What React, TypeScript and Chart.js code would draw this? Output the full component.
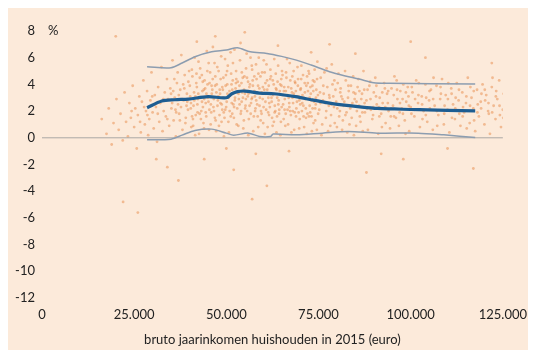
import React, { useEffect, useRef } from "react";
import { Chart, registerables } from "chart.js";

Chart.register(...registerables);

// x values in thousands of euro, y values in %
const xTicks = [0, 25, 50, 75, 100, 125];
const yTicks = [-12, -10, -8, -6, -4, -2, 0, 2, 4, 6, 8];

const medianIncome = [28.5, 32.5, 36, 39.7, 45, 50, 51.5, 53, 55, 59, 63, 68.8, 73, 78, 82, 86.8, 91, 95.6, 100, 104.7, 110, 117.5];
const medianPct = [2.25, 2.75, 2.85, 2.9, 3.08, 3.0, 3.3, 3.46, 3.5, 3.35, 3.3, 3.08, 2.85, 2.6, 2.45, 2.3, 2.2, 2.16, 2.12, 2.09, 2.05, 2.02];

const upperIncome = [28.5, 35, 38, 41.5, 46, 50, 53, 56.5, 61, 65, 69, 73, 78, 82, 86, 90, 94, 117.5];
const upperPct = [5.32, 5.25, 5.6, 6.07, 6.44, 6.57, 6.74, 6.44, 6.32, 6.1, 5.82, 5.45, 4.95, 4.65, 4.4, 4.12, 4.08, 4.03];

const lowerIncome = [28.5, 35, 38, 41.5, 46, 50, 52, 56, 59, 62, 62.7, 69, 76, 83, 91, 102, 109, 117.5];
const lowerPct = [-0.15, -0.1, 0.2, 0.55, 0.65, 0.35, 0.2, 0.35, 0.1, 0.1, 0.28, 0.22, 0.35, 0.47, 0.35, 0.35, 0.22, 0.02];

const zeroIncome = [0, 125.5];
const zeroPct = [0, 0];

const cloudLow: [number, number][] = [
  [16.2, 1.4], [17.5, 0.3], [18.1, 2.2], [18.9, -0.5], [19.4, 1.1], [20.2, 2.9], [20.8, 0.6], [21.3, 1.8], [21.9, -0.2], [22.4, 3.4],
  [22.8, 1.2], [23.3, 0.1], [23.7, 2.6], [24.1, 1.5], [24.6, 3.9], [25.0, 0.8], [25.3, 2.2], [25.7, -0.8], [26.0, 1.7], [26.4, 3.1],
  [26.8, 0.4], [27.1, 2.7], [27.5, 4.3], [27.9, 1.0], [28.2, 2.0], [28.5, 3.5], [28.8, 0.2], [29.1, 1.4], [29.4, 2.8], [29.7, 4.9],
  [30.0, 1.9], [30.3, 0.7], [30.6, 3.2], [30.9, 2.3], [31.2, -0.3], [31.5, 3.8], [31.8, 1.2], [32.1, 2.6], [32.4, 5.3], [32.7, 0.5],
  [33.0, 2.0], [33.3, 3.4], [33.6, 1.6], [33.9, 4.4], [34.2, 2.9], [34.5, 0.9], [34.8, 3.7], [35.1, 2.2], [35.4, 5.8], [35.7, 1.3],
  [36.0, 3.0], [36.3, 0.1], [36.6, 4.1], [36.9, 2.5], [37.2, 1.8], [37.5, 3.6], [37.8, 6.2], [38.1, 0.6], [38.4, 2.8], [38.7, 4.7],
  [39.0, 1.5], [39.3, 3.3], [39.6, 2.1], [39.9, 5.0], [22, -4.8], [26, -5.6], [37, -3.2], [20, 7.6], [31, -1.6], [34, -2.2],
  [27.7, 2.3], [29.9, 3.1], [31.4, 1.8], [32.9, 2.9], [34.0, 1.4], [35.0, 3.3], [28.6, 1.7], [30.7, 2.5], [24.3, 2.0], [26.6, 1.2],
];

const cloudMid: [number, number][] = [
  [40.2, 3.1], [40.5, 0.8], [40.8, 4.6], [41.1, 2.4], [41.4, 6.0], [41.7, 1.7], [42.0, 3.8], [42.3, 2.9], [42.6, 0.3], [42.9, 5.2],
  [43.2, 2.0], [43.5, 3.5], [43.8, 1.1], [44.1, 4.3], [44.4, 2.6], [44.7, 6.5], [45.0, 3.0], [45.3, 0.6], [45.6, 4.9], [45.9, 1.9],
  [46.2, 3.6], [46.5, 2.3], [46.8, 5.6], [47.1, 1.3], [47.4, 4.0], [47.7, 2.8], [48.0, 0.9], [48.3, 3.3], [48.6, 6.1], [48.9, 2.1],
  [49.2, 4.5], [49.5, 1.5], [49.8, 3.9], [50.1, 2.7], [50.4, 5.4], [50.7, 0.4], [51.0, 3.2], [51.3, 4.8], [51.6, 1.8], [51.9, 2.5],
  [52.2, 6.6], [52.5, 3.7], [52.8, 1.0], [53.1, 4.2], [53.4, 2.9], [53.7, 5.8], [54.0, 2.0], [54.3, 3.4], [54.6, 0.7], [54.9, 4.6],
  [55.2, 2.4], [55.5, 6.3], [55.8, 3.1], [56.1, 1.4], [56.4, 4.0], [56.7, 2.6], [57.0, 5.1], [57.3, 0.5], [57.6, 3.5], [57.9, 2.2],
  [58.2, 4.4], [58.5, 1.6], [58.8, 6.0], [59.1, 3.0], [59.4, 2.0], [59.7, 4.9], [60.0, 1.1], [60.3, 3.6], [60.6, 2.7], [60.9, 5.5],
  [61.2, 0.8], [61.5, 3.9], [61.8, 2.3], [62.1, 4.6], [62.4, 1.5], [62.7, 3.2], [63.0, 5.9], [63.3, 2.0], [63.6, 0.4], [63.9, 4.2],
  [64.2, 2.8], [64.5, 3.5], [64.8, 1.2], [65.1, 5.0], [65.4, 2.5], [65.7, 3.8], [66.0, 0.9], [66.3, 4.5], [66.6, 2.1], [66.9, 3.0],
  [67.2, 5.6], [67.5, 1.7], [67.8, 3.4], [68.1, 2.6], [68.4, 0.6], [68.7, 4.1], [69.0, 2.2], [69.3, 5.3], [69.6, 3.1], [69.9, 1.4],
  [70.2, 3.7], [70.5, 2.0], [70.8, 4.7], [71.1, 0.8], [71.4, 2.9], [71.7, 3.9], [72.0, 1.8], [72.3, 5.0], [72.6, 2.4], [72.9, 3.3],
  [73.2, 0.5], [73.5, 4.3], [73.8, 2.7], [74.1, 1.3], [74.4, 3.6], [74.7, 5.7],
  [40.35, 2.2], [40.65, 5.1], [40.95, 1.4], [41.25, 3.4], [41.55, 0.2], [41.85, 4.1], [42.15, 2.5], [42.45, 5.7], [42.75, 1.8], [43.05, 3.0],
  [43.35, 4.7], [43.65, 2.3], [43.95, 0.7], [44.25, 3.7], [44.55, 1.6], [44.85, 5.0], [45.15, 2.7], [45.45, 4.1], [45.75, 1.0], [46.05, 3.3],
  [46.35, 6.8], [46.65, 2.0], [46.95, 3.9], [47.25, 0.5], [47.55, 5.3], [47.85, 3.1], [48.15, 1.7], [48.45, 4.4], [48.75, 2.5], [49.05, 3.6],
  [49.35, 0.1], [49.65, 5.9], [49.95, 2.3], [50.25, 4.0], [50.55, 1.2], [50.85, 3.5], [51.15, 6.4], [51.45, 2.6], [51.75, 4.3], [52.05, 1.5],
  [52.35, 3.0], [52.65, 5.0], [52.95, 2.2], [53.25, 0.9], [53.55, 3.9], [53.85, 7.1], [54.15, 2.7], [54.45, 4.5], [54.75, 1.3], [55.05, 3.3],
  [55.35, 5.2], [55.65, 2.0], [55.95, 0.2], [56.25, 3.8], [56.55, 6.0], [56.85, 2.9], [57.15, 4.3], [57.45, 1.6], [57.75, 3.1], [58.05, 5.5],
  [58.35, 2.5], [58.65, 0.8], [58.95, 3.7], [59.25, 4.6], [59.55, 1.8], [59.85, 2.9], [60.15, 5.8], [60.45, 0.3], [60.75, 3.3], [61.05, 4.3],
  [61.35, 1.9], [61.65, 2.6], [61.95, 5.1], [62.25, 3.0], [62.55, 0.9], [62.85, 4.0], [63.15, 2.4], [63.45, 3.7], [63.75, 1.6], [64.05, 5.4],
  [64.35, 2.1], [64.65, 0.2], [64.95, 3.9], [65.25, 4.7], [65.55, 1.4], [65.85, 2.9], [66.15, 3.5], [66.45, 5.9], [66.75, 1.0], [67.05, 2.6],
  [67.35, 4.3], [67.65, 0.4], [67.95, 3.0], [68.25, 5.0], [68.55, 1.9], [68.85, 3.5], [69.15, 2.7], [69.45, 4.4], [69.75, 0.7], [70.05, 2.5],
  [70.35, 5.4], [70.65, 3.2], [70.95, 1.6], [71.25, 4.1], [71.55, 2.2], [71.85, 0.3], [72.15, 3.5], [72.45, 4.8], [72.75, 1.9], [73.05, 2.8],
  [73.35, 3.9], [73.65, 1.1], [73.95, 5.1], [74.25, 2.5], [74.55, 0.6], [74.85, 3.2],
  [44, -1.6], [47, 7.6], [52, -2.4], [55, 7.9], [58, -1.2], [61, -3.6], [64, 6.9], [50, -0.8], [67, -1.0], [73, 6.4], [42, 7.2], [57, -4.6],
];

const cloudDense: [number, number][] = [
  [35.3, 2.6], [35.9, 4.4], [36.4, 1.9], [37.1, 3.2], [37.7, 2.3], [38.3, 4.0], [38.9, 1.1], [39.4, 2.7], [40.1, 3.9], [40.7, 1.6],
  [41.3, 2.8], [41.9, 4.8], [42.4, 3.3], [43.1, 1.4], [43.6, 4.2], [44.0, 2.9], [44.6, 3.3], [45.2, 5.6], [45.8, 2.5], [46.3, 4.4],
  [46.9, 1.5], [47.3, 3.4], [47.9, 5.0], [48.4, 2.6], [48.9, 3.8], [49.3, 1.9], [49.9, 4.7], [50.3, 3.3], [50.9, 2.0], [51.4, 4.0],
  [51.8, 5.6], [52.3, 2.8], [52.7, 4.4], [53.3, 3.3], [53.9, 1.8], [54.2, 4.9], [54.8, 3.6], [55.3, 2.9], [55.9, 4.2], [56.3, 2.4],
  [56.9, 5.4], [57.2, 3.9], [57.8, 2.0], [58.3, 3.4], [58.7, 4.8], [59.3, 1.3], [59.9, 3.8], [60.4, 4.9], [60.8, 2.1], [61.4, 3.0],
  [61.9, 4.4], [62.3, 2.7], [62.9, 1.2], [63.4, 4.8], [63.8, 3.0], [64.3, 1.8], [64.9, 4.4], [65.3, 3.2], [65.8, 2.1], [66.2, 4.9],
  [66.8, 3.8], [67.3, 2.0], [67.9, 4.6], [68.3, 3.3], [68.9, 1.6], [69.4, 3.9], [69.8, 2.8], [70.3, 4.4], [70.9, 2.4], [71.3, 3.4],
  [71.9, 4.6], [72.4, 1.6], [72.8, 3.8], [73.4, 2.2], [73.9, 4.2], [74.3, 3.0], [74.9, 1.8],
  [35.6, 3.5], [36.2, 2.1], [36.8, 4.9], [37.4, 1.3], [38.0, 2.9], [38.6, 3.7], [39.2, 2.4], [39.7, 4.2], [40.4, 2.6], [41.0, 0.9],
  [41.6, 3.1], [42.2, 1.9], [42.8, 4.5], [43.4, 2.7], [43.9, 3.6], [44.4, 1.9], [44.9, 4.0], [45.4, 2.1], [46.0, 3.9], [46.6, 2.9],
  [47.0, 4.6], [47.6, 2.4], [48.2, 3.6], [48.7, 1.2], [49.1, 3.0], [49.7, 2.1], [50.2, 5.0], [50.6, 3.0], [51.2, 1.6], [51.6, 3.6],
  [52.1, 2.3], [52.6, 4.1], [53.0, 3.4], [53.6, 2.5], [54.1, 4.1], [54.5, 3.0], [55.1, 2.2], [55.6, 4.5], [56.0, 3.3], [56.6, 1.8],
  [57.0, 3.0], [57.6, 4.6], [58.1, 2.8], [58.6, 3.9], [59.0, 2.4], [59.6, 3.4], [60.1, 2.3], [60.6, 4.1], [61.1, 3.6], [61.6, 1.7],
  [62.0, 3.3], [62.6, 4.3], [63.1, 1.9], [63.6, 3.6], [64.1, 2.5], [64.6, 4.0], [65.0, 2.3], [65.6, 3.5], [66.1, 1.8], [66.6, 3.2],
  [67.1, 2.3], [67.6, 3.7], [68.0, 2.0], [68.6, 4.2], [69.1, 3.1], [69.6, 1.9], [70.1, 3.6], [70.6, 2.6], [71.0, 3.0], [71.6, 1.5],
  [72.1, 4.1], [72.6, 3.0], [73.1, 1.6], [73.6, 3.5], [74.1, 2.2], [74.6, 4.4],
  [75.5, 2.6], [76.3, 3.9], [77.1, 2.0], [77.9, 3.2], [78.5, 2.5], [79.3, 4.3], [80.1, 2.2], [80.9, 3.4], [81.5, 2.9], [82.3, 1.7],
  [83.1, 3.9], [83.9, 2.4], [84.5, 3.4], [85.3, 2.7], [86.1, 3.5], [86.9, 1.9], [87.5, 2.6], [88.3, 3.6], [89.1, 2.9], [89.9, 2.3],
  [90.7, 3.9], [91.5, 1.6], [92.3, 3.4], [93.1, 2.3], [93.9, 3.5], [94.7, 2.2], [95.5, 1.6], [96.3, 3.6], [97.1, 2.6], [97.9, 1.8],
  [98.7, 3.4], [99.5, 2.4], [100.3, 3.8], [101.1, 2.1], [102.1, 3.2], [103.1, 2.5], [104.1, 1.7], [105.1, 3.5], [106.1, 2.9], [107.1, 2.0],
  [108.1, 3.8], [109.1, 1.8], [110.1, 2.9], [111.1, 3.3], [112.1, 2.2], [113.1, 3.6], [114.1, 1.6], [115.1, 3.1], [116.1, 2.4], [117.1, 3.5],
  [118.1, 1.9], [119.1, 2.2], [120.1, 3.6], [121.1, 2.6], [122.1, 1.9], [123.1, 3.1], [124.1, 2.4], [125.1, 1.5],
];

const cloudHigh: [number, number][] = [
  [75.2, 2.1], [75.6, 4.5], [76.0, 1.0], [76.4, 3.3], [76.8, 2.6], [77.2, 5.2], [77.6, 0.5], [78.0, 3.0], [78.4, 1.7], [78.8, 4.0],
  [79.2, 2.3], [79.6, 3.6], [80.0, 0.8], [80.4, 4.8], [80.8, 2.0], [81.2, 3.1], [81.6, 1.3], [82.0, 2.7], [82.4, 4.3], [82.8, 0.4],
  [83.2, 3.5], [83.6, 2.2], [84.0, 1.5], [84.4, 4.6], [84.8, 2.9], [85.2, 0.9], [85.6, 3.8], [86.0, 2.4], [86.4, 1.2], [86.8, 3.3],
  [87.2, 5.0], [87.6, 1.9], [88.0, 2.8], [88.4, 0.6], [88.8, 3.9], [89.2, 2.1], [89.6, 1.4], [90.0, 3.4], [90.4, 4.5], [90.8, 2.5],
  [91.2, 0.3], [91.6, 3.0], [92.0, 1.8], [92.4, 2.6], [92.8, 4.1], [93.2, 1.1], [93.6, 3.3], [94.0, 2.0], [94.4, 0.7], [94.8, 3.7],
  [95.2, 2.4], [95.6, 4.6], [96.0, 1.5], [96.4, 2.9], [96.8, 0.9], [97.2, 3.5], [97.6, 2.2], [98.0, 4.0], [98.4, 1.3], [98.8, 2.7],
  [99.2, 3.8], [99.6, 0.5], [100.0, 2.3], [100.5, 3.4], [101.0, 1.6], [101.5, 4.3], [102.0, 2.6], [102.5, 0.8], [103.0, 3.1], [103.5, 2.0],
  [104.0, 4.0], [104.5, 1.2], [105.0, 2.8], [105.5, 3.6], [106.0, 0.6], [106.5, 2.4], [107.0, 3.9], [107.5, 1.7], [108.0, 2.9], [108.5, 4.4],
  [109.0, 1.0], [109.5, 3.2], [110.0, 2.1], [110.5, 0.4], [111.0, 3.7], [111.5, 2.5], [112.0, 1.4], [112.5, 4.1], [113.0, 2.8], [113.5, 0.9],
  [114.0, 3.4], [114.5, 1.9], [115.0, 2.6], [115.5, 4.5], [116.0, 1.1], [116.5, 3.0], [117.0, 2.2], [117.5, 0.5], [118.0, 3.6], [118.5, 1.6],
  [119.0, 2.7], [119.5, 4.0], [120.0, 1.0], [120.5, 3.2], [121.0, 2.0], [121.5, 0.3], [122.0, 3.8], [122.5, 2.4], [123.0, 1.4], [123.5, 2.9],
  [124.0, 4.3], [124.5, 0.8], [125.0, 2.1],
  [75.4, 3.4], [75.8, 0.2], [76.2, 2.8], [76.6, 4.9], [77.0, 1.5], [77.4, 3.8], [77.8, 2.4], [78.2, 0.9], [78.6, 5.5], [79.0, 3.1],
  [79.4, 1.1], [79.8, 2.7], [80.2, 4.1], [80.6, 1.6], [81.0, 3.7], [81.4, 0.6], [81.8, 2.4], [82.2, 5.0], [82.6, 1.9], [83.0, 3.0],
  [83.4, 1.0], [83.8, 3.9], [84.2, 2.6], [84.6, 0.2], [85.0, 3.3], [85.4, 2.0], [85.8, 4.4], [86.2, 1.6], [86.6, 2.9], [87.0, 0.5],
  [87.4, 3.6], [88.2, 2.2], [89.0, 4.2], [89.8, 1.7], [90.6, 3.1], [91.4, 2.3], [92.2, 0.8], [93.0, 3.7], [93.8, 2.6], [94.6, 1.6],
  [95.4, 3.2], [96.2, 4.3], [97.0, 1.9], [97.8, 2.9], [98.6, 0.3], [99.4, 3.1], [100.2, 1.8], [101.2, 2.9], [102.2, 4.1], [103.2, 1.4],
  [104.2, 3.0], [105.2, 2.2], [106.2, 4.5], [107.2, 0.9], [108.2, 3.3], [109.2, 2.4], [110.2, 4.1], [111.2, 1.5], [112.2, 3.0], [113.2, 1.8],
  [114.2, 2.3], [115.2, 0.7], [116.2, 3.8], [117.2, 1.3], [118.2, 2.5], [119.2, 3.3], [120.2, 2.8], [121.2, 1.8], [122.2, 4.5], [123.2, 3.5],
  [124.2, 1.7], [125.2, 3.3],
  [78, 7.0], [85, 6.3], [92, -1.2], [98, -1.6], [104, 6.0], [110, -0.8], [117, -2.3], [122, 5.6], [100, 7.2], [88, -2.6], [126, -0.5],
];

const BG = "rgb(252,234,218)";
const FONT = "Lato, 'Open Sans', sans-serif";

const toXY = (xs: number[], ys: number[]) => xs.map((x, i) => ({ x, y: ys[i] }));

export default function App() {
  const ref = useRef<HTMLCanvasElement | null>(null);

  useEffect(() => {
    document.body.style.overflow = "hidden";
    const canvas = ref.current;
    if (!canvas) return;

    const bgPlugin = {
      id: "bg",
      beforeDraw(chart: any) {
        const ctx = chart.ctx;
        ctx.save();
        ctx.fillStyle = BG;
        ctx.fillRect(0, 0, chart.width, chart.height);
        ctx.restore();
      },
      afterDraw(chart: any) {
        const ctx = chart.ctx;
        const y = chart.scales.y.getPixelForValue(8);
        ctx.save();
        ctx.fillStyle = "#222";
        ctx.font = `13px ${FONT}`;
        ctx.textBaseline = "middle";
        ctx.textAlign = "left";
        ctx.fillText("%", chart.chartArea.left + 6, y);
        ctx.restore();
      },
    };

    const cloud = [...cloudLow, ...cloudMid, ...cloudDense, ...cloudHigh].map(([x, y]) => ({ x, y }));

    const chart = new Chart(canvas, {
      type: "scatter",
      data: {
        datasets: [
          {
            label: "median",
            data: toXY(medianIncome, medianPct),
            showLine: true,
            borderColor: "#1d5d92",
            borderWidth: 3.2,
            pointRadius: 0,
            tension: 0.3,
            order: 0,
          },
          {
            label: "upper",
            data: toXY(upperIncome, upperPct),
            showLine: true,
            borderColor: "#8c9db0",
            borderWidth: 1.5,
            pointRadius: 0,
            tension: 0.3,
            order: 1,
          },
          {
            label: "lower",
            data: toXY(lowerIncome, lowerPct),
            showLine: true,
            borderColor: "#8c9db0",
            borderWidth: 1.5,
            pointRadius: 0,
            tension: 0.3,
            order: 1,
          },
          {
            label: "zero",
            data: toXY(zeroIncome, zeroPct),
            showLine: true,
            borderColor: "#aaa7a4",
            borderWidth: 1,
            pointRadius: 0,
            order: 2,
          },
          {
            label: "cloud",
            data: cloud,
            pointRadius: 1.4,
            pointBorderWidth: 0,
            backgroundColor: "rgba(232,138,72,0.5)",
            borderColor: "rgba(0,0,0,0)",
            order: 10,
          },
        ],
      },
      options: {
        animation: false,
        responsive: true,
        maintainAspectRatio: false,
        events: [],
        layout: { padding: { top: 23, right: 21, left: 0, bottom: 0 } },
        plugins: { legend: { display: false }, tooltip: { enabled: false } },
        scales: {
          x: {
            type: "linear",
            min: 0,
            max: 125,
            afterBuildTicks: (s: any) => {
              s.ticks = xTicks.map((v) => ({ value: v }));
            },
            afterFit: (s: any) => {
              s.height = 52;
            },
            grid: { display: false, drawTicks: false },
            border: { display: false },
            ticks: {
              color: "#222",
              font: { family: FONT, size: 13 },
              padding: 9,
              maxRotation: 0,
              callback: (v: any) => (Number(v) === 0 ? "0" : `${v}.000`),
            },
            title: {
              display: true,
              text: "bruto jaarinkomen huishouden in 2015 (euro)",
              color: "#222",
              font: { family: FONT, size: 13 },
              padding: { top: 0, bottom: 2 },
            },
          },
          y: {
            type: "linear",
            min: -12,
            max: 8,
            afterBuildTicks: (s: any) => {
              s.ticks = yTicks.map((v) => ({ value: v }));
            },
            afterFit: (s: any) => {
              s.width = 34;
            },
            grid: { display: false, drawTicks: false },
            border: { display: false },
            ticks: {
              color: "#222",
              font: { family: FONT, size: 13 },
              padding: 7,
              callback: (v: any) => `${v}`,
            },
          },
        },
      },
      plugins: [bgPlugin],
    } as any);

    return () => chart.destroy();
  }, []);

  return (
    <div style={{ width: 528, height: 342, position: "relative" }}>
      <canvas ref={ref} />
    </div>
  );
}
